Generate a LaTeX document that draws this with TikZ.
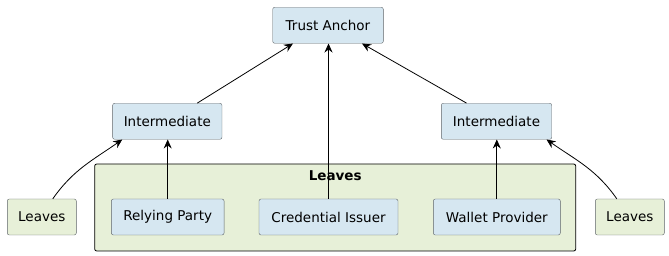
\documentclass[tikz,border=0pt]{standalone}
\usepackage{fontspec}
\setmainfont{DejaVu Sans}
\usetikzlibrary{arrows.meta}
\definecolor{entityblue}{HTML}{D6E7F1}
\definecolor{leafgreen}{HTML}{E7F0D8}
\definecolor{edgegray}{HTML}{5E6468}
\tikzset{
  entity/.style={draw=edgegray, fill=entityblue, rounded corners=2pt, minimum height=36pt, inner xsep=8pt, font=\fontsize{13.5}{16}\selectfont},
  leaf/.style={entity, fill=leafgreen},
  link/.style={-{Stealth[length=9pt,width=8pt,inset=3pt]}, line width=0.8pt}
}
\begin{document}
\begin{tikzpicture}[x=1pt,y=-1pt]
  \useasboundingbox (0,0) rectangle (669,256);
  % Container
  \node[draw=black, line width=0.8pt, fill=leafgreen, rounded corners=2pt, minimum width=481pt, minimum height=87pt] (group) at (335.2,207.5) {};
  \node[font=\fontsize{13.5}{16}\selectfont\bfseries] (grouptitle) at (335.2,176) {Leaves};
  % Top
  \node[entity, minimum width=110.6pt] (anchor) at (328,25.3) {Trust Anchor};
  \node[entity, minimum width=109.3pt] (interL) at (167.3,121.3) {Intermediate};
  \node[entity, minimum width=110.4pt] (interR) at (496.5,121.3) {Intermediate};
  % Leaves
  \node[leaf, minimum width=69pt] (leavesL) at (41.8,217) {Leaves};
  \node[entity, minimum width=112.7pt] (relying) at (167.7,217) {Relying Party};
  \node[entity, minimum width=139pt] (issuer) at (328.5,217) {Credential Issuer};
  \node[entity, minimum width=127pt] (wallet) at (496.8,217) {Wallet Provider};
  \node[leaf, minimum width=69pt] (leavesR) at (629.8,217) {Leaves};
  % Arrows to the anchor
  \draw[link] ([xshift=30pt]interL.north) -- ([xshift=-35pt]anchor.south);
  \draw[link] (issuer.north) -- (issuer.north |- anchor.south);
  \draw[link] ([xshift=-30pt]interR.north) -- ([xshift=34pt]anchor.south);
  % Arrows to the intermediates
  \draw[link] (relying.north) -- (relying.north |- interL.south);
  \draw[link] (wallet.north) -- (wallet.north |- interR.south);
  \draw[link] ([xshift=11pt]leavesL.north) to[out=55, in=-145] ([xshift=-45pt]interL.south);
  \draw[link] ([xshift=-13pt]leavesR.north) to[out=125, in=-35] ([xshift=50pt]interR.south);
\end{tikzpicture}
\end{document}
